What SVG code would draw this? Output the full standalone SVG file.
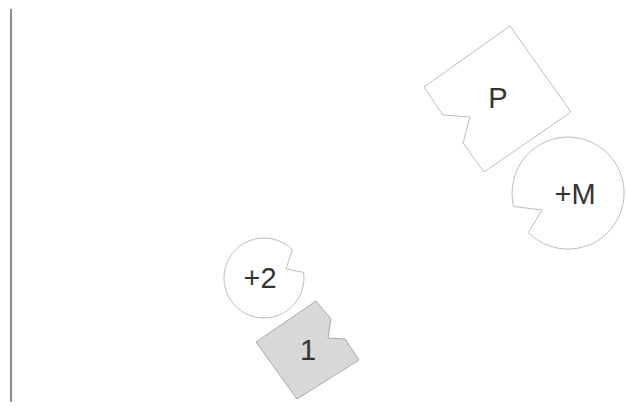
<svg xmlns="http://www.w3.org/2000/svg" width="627" height="412" viewBox="0 0 627 412">
<style>
.shape{fill:#ffffff;stroke:#bdbdbd;stroke-width:1;stroke-linejoin:round}
.gray{fill:#d8d8d8;stroke:#a8a8a8;stroke-width:1;stroke-linejoin:round}
.lbl{font-family:"Liberation Sans",Arial,sans-serif;font-size:29px;fill:#333333;text-anchor:middle}
</style>
<rect width="627" height="412" fill="#ffffff"/>
<g id="connectors">
<line x1="11" y1="9" x2="11" y2="402" stroke="#666666" stroke-width="1.5"/>
</g>
<g id="node-P">
<polygon class="shape" points="510,26 571,112 484,172 463,143 470,117 443,115 424,87"/>
<text class="lbl" x="498" y="108">P</text>
</g>
<g id="node-M">
<path class="shape" d="M513.7,206.5 L542,210 L528.4,232.6 A56 56 0 1 0 513.7,206.5 Z"/>
<text class="lbl" x="575" y="204">+M</text>
</g>
<g id="node-2">
<path class="shape" d="M292.3,249.7 L286,269 L303.6,272.4 A40 40 0 1 1 292.3,249.7 Z"/>
<text class="lbl" x="260" y="288">+2</text>
</g>
<g id="node-1">
<polygon class="gray" points="316,301 331,319 328,338 345,339 359,360 297,399 256,342"/>
<text class="lbl" x="308" y="360">1</text>
</g>
</svg>
